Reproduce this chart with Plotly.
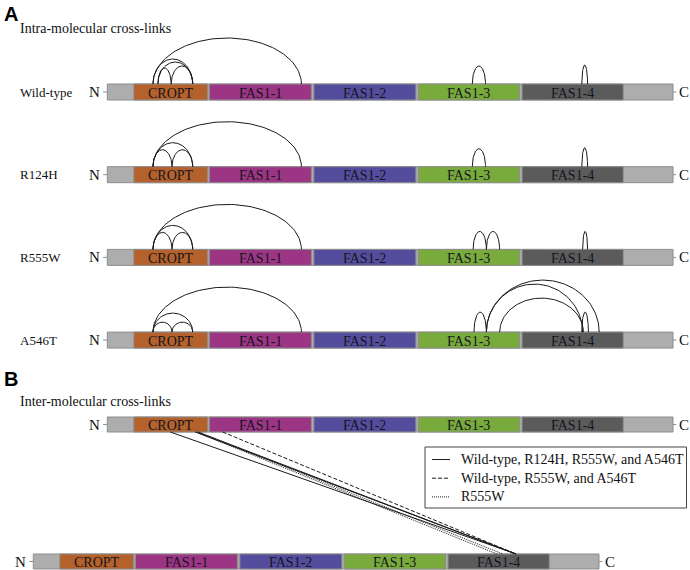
import numpy as np
import plotly.graph_objects as go

# ---------------- data ----------------
PROTEIN_LEN = 683
domain_names = ["CROPT", "FAS1-1", "FAS1-2", "FAS1-3", "FAS1-4"]
domain_start = [33, 124, 250, 376, 501]
domain_end = [122, 247, 373, 498, 623]

variants = ["Wild-type", "R124H", "R555W", "A546T"]

# intra-molecular cross-links (residue pairs)
wt_link_from = [56, 62, 62, 78, 56, 441, 573]
wt_link_to = [104, 104, 78, 104, 235, 457, 580]
r124h_link_from = [56, 56, 79, 56, 441, 573]
r124h_link_to = [104, 79, 104, 235, 457, 580]
r555w_link_from = [56, 56, 79, 56, 442, 458, 574]
r555w_link_to = [104, 79, 104, 235, 458, 474, 580]
a546t_link_from = [56, 56, 79, 56, 443, 458, 458, 474, 573]
a546t_link_to = [104, 79, 104, 235, 458, 574, 594, 575, 581]

# inter-molecular cross-links (upper molecule residue -> lower molecule residue)
inter_from = [77, 107, 110, 140, 108, 111]
inter_to = [583, 583, 583, 583, 560, 567]
inter_group = [0, 0, 0, 1, 2, 2]
legend_labels = ["Wild-type, R124H, R555W, and A546T",
                 "Wild-type, R555W, and A546T",
                 "R555W"]

# ---------------- layout / style ----------------
W, H = 690, 570
PX0, PXR = 107.3, 0.8295          # pixel of residue 1, pixels per residue
XMIN = 1 - PX0 / PXR
XMAX = 1 + (W - PX0) / PXR
def px2res(p):
    return 1 + (p - PX0) / PXR

domain_colors = ["#b4612b", "#9d3585", "#544d9d", "#79aa3c", "#5b5b5b"]
BAR_GRAY = "#adadad"
EDGE = "#8e8e8e"
SERIF = "Liberation Serif, Times New Roman, serif"

arc_heights = [
    [25, 22, 16, 18, 46, 18, 19],
    [24, 17, 17, 45, 18, 19],
    [24, 17, 17, 45, 18, 18, 18],
    [19, 10, 10, 45, 20, 48, 52, 34, 20],
]
row_tops = [84, 166.7, 249.4, 332.1]
A_BAR_H = 16
B_TOP, B_BOT, B_BAR_H = 417, 554, 15
B_SHIFT = -74 / PXR
legend_dash = ["solid", "4px,2px", "1px,1px"]

fig = go.Figure()
shapes = []
annots = []

def add_bar(top, h, shift=0.0):
    shapes.append(dict(type="rect", xref="x", yref="y", x0=1 + shift, x1=PROTEIN_LEN + shift,
                       y0=top, y1=top + h, fillcolor=BAR_GRAY,
                       line=dict(color=EDGE, width=1), layer="below"))
    for nm, s, e, c in zip(domain_names, domain_start, domain_end, domain_colors):
        shapes.append(dict(type="rect", xref="x", yref="y", x0=s + shift, x1=e + shift,
                           y0=top, y1=top + h, fillcolor=c,
                           line=dict(color=EDGE, width=1), layer="below"))
        annots.append(dict(x=(s + e) / 2 + shift, y=top + h / 2 + 1, xref="x", yref="y",
                           text=nm, showarrow=False,
                           font=dict(family=SERIF, size=14, color="#151520")))
    # N / C terminal labels with small connectors
    cy = top + h / 2
    shapes.append(dict(type="line", xref="x", yref="y", x0=-4 + shift, x1=1 + shift,
                       y0=cy, y1=cy, line=dict(color=EDGE, width=1)))
    shapes.append(dict(type="line", xref="x", yref="y", x0=PROTEIN_LEN + shift,
                       x1=PROTEIN_LEN + 4 + shift, y0=cy, y1=cy, line=dict(color=EDGE, width=1)))
    annots.append(dict(x=-5 + shift, y=cy, xref="x", yref="y", text="N", showarrow=False,
                       xanchor="right", font=dict(family=SERIF, size=15, color="#111")))
    annots.append(dict(x=PROTEIN_LEN + 5 + shift, y=cy, xref="x", yref="y", text="C",
                       showarrow=False, xanchor="left",
                       font=dict(family=SERIF, size=15, color="#111")))

# ---------------- panel A ----------------
link_sets = [(wt_link_from, wt_link_to), (r124h_link_from, r124h_link_to),
             (r555w_link_from, r555w_link_to), (a546t_link_from, a546t_link_to)]
t = np.linspace(0, np.pi, 80)
for i, (name, (lf, lt)) in enumerate(zip(variants, link_sets)):
    top = row_tops[i]
    add_bar(top, A_BAR_H)
    annots.append(dict(x=18 / W, y=top + A_BAR_H / 2, xref="paper", yref="y", text=name,
                       showarrow=False, xanchor="left",
                       font=dict(family=SERIF, size=13, color="#111")))
    for a, b, hgt in zip(lf, lt, arc_heights[i]):
        cx, rx = (a + b) / 2, (b - a) / 2
        fig.add_trace(go.Scatter(x=cx - rx * np.cos(t), y=top - hgt * np.sin(t),
                                 mode="lines", line=dict(color="#1a1a1a", width=1),
                                 showlegend=False, hoverinfo="skip"))

# ---------------- panel B ----------------
add_bar(B_TOP, B_BAR_H)
add_bar(B_BOT, B_BAR_H, shift=B_SHIFT)
for a, b, g in zip(inter_from, inter_to, inter_group):
    fig.add_trace(go.Scatter(x=[a, b + B_SHIFT], y=[B_TOP + B_BAR_H, B_BOT],
                             mode="lines",
                             line=dict(color="#1a1a1a", width=1, dash=legend_dash[g]),
                             showlegend=False, hoverinfo="skip"))

# legend box
shapes.append(dict(type="rect", xref="x", yref="y", x0=px2res(425), x1=px2res(686.5),
                   y0=447, y1=508, line=dict(color="#444", width=1), fillcolor="white",
                   layer="below"))
for k, lab in enumerate(legend_labels):
    yy = 459.5 + k * 18.7
    fig.add_trace(go.Scatter(x=[px2res(432), px2res(450)], y=[yy, yy], mode="lines",
                             line=dict(color="#1a1a1a", width=1, dash=legend_dash[k]),
                             showlegend=False, hoverinfo="skip"))
    annots.append(dict(x=px2res(459), y=yy, xref="x", yref="y", text=lab, showarrow=False,
                       xanchor="left", font=dict(family=SERIF, size=14, color="#111")))

# panel titles
annots += [
    dict(x=2 / W, y=13.5, xref="paper", yref="y", text="<b>A</b>", showarrow=False,
         xanchor="left", font=dict(family="Liberation Sans, Arial, sans-serif", size=20, color="#000")),
    dict(x=18 / W, y=28.5, xref="paper", yref="y", text="Intra-molecular cross-links",
         showarrow=False, xanchor="left", font=dict(family=SERIF, size=14, color="#111")),
    dict(x=2 / W, y=379, xref="paper", yref="y", text="<b>B</b>", showarrow=False,
         xanchor="left", font=dict(family="Liberation Sans, Arial, sans-serif", size=20, color="#000")),
    dict(x=18 / W, y=401, xref="paper", yref="y", text="Inter-molecular cross-links",
         showarrow=False, xanchor="left", font=dict(family=SERIF, size=14, color="#111")),
]

fig.update_layout(
    width=W, height=H, margin=dict(l=0, r=0, t=0, b=0),
    paper_bgcolor="white", plot_bgcolor="white",
    xaxis=dict(range=[XMIN, XMAX], visible=False, fixedrange=True),
    yaxis=dict(range=[H, 0], visible=False, fixedrange=True),
    shapes=shapes, annotations=annots, showlegend=False,
)
fig.write_html("out.html", config={"displayModeBar": False},
               post_script="document.body.style.margin='0px';document.body.style.overflow='hidden';")
